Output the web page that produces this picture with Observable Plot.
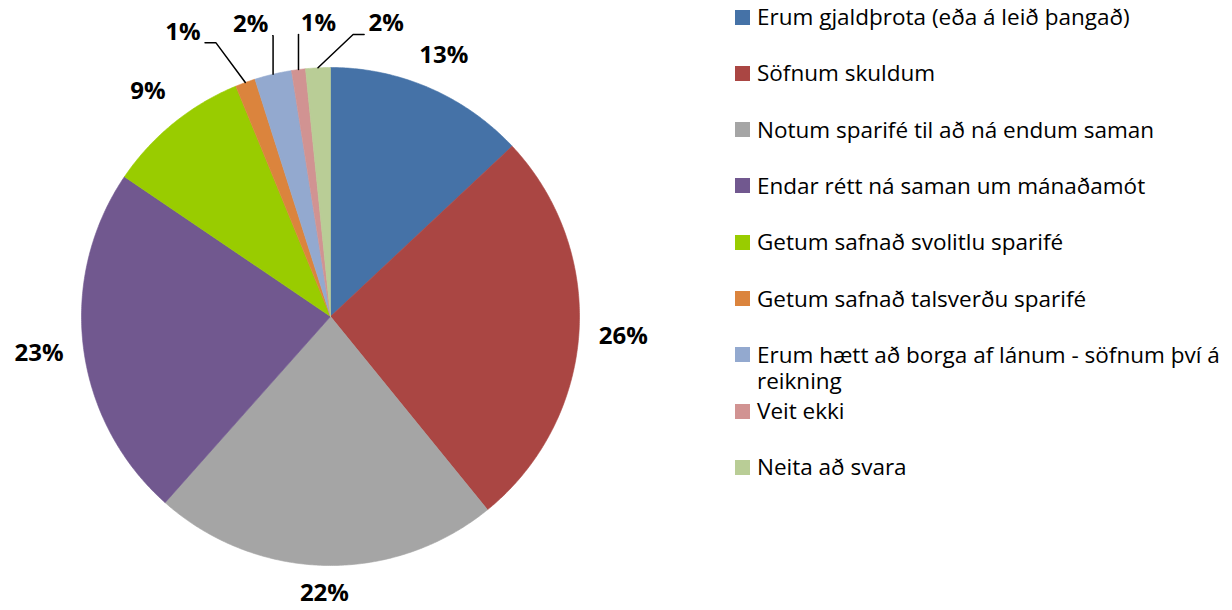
<!DOCTYPE html>
<html>
<head>
<meta charset="utf-8">
<script src="https://cdn.jsdelivr.net/npm/d3@7"></script>
<script src="https://cdn.jsdelivr.net/npm/@observablehq/plot@0.6"></script>
<style>
  html, body { margin: 0; padding: 0; background: #fff; }
  #wrap { position: relative; width: 1232px; height: 610px; overflow: hidden; font-family: "Open Sans", sans-serif; }
  #chart { position: absolute; left: 0; top: 0; }
  #legend { position: absolute; left: 735px; top: 0; width: 497px; }
  .item { position: absolute; left: 0; width: 497px; font-size: 22.5px; line-height: 26px; color: #000; }
  .sw { position: absolute; left: 0; top: 5.5px; width: 15px; height: 15px; }
  .lab { position: absolute; left: 22px; width: 475px; }
</style>
</head>
<body>
<div id="wrap"><div id="chart"></div><div id="legend"></div></div>
<script>
const categories = [
  "Erum gjaldþrota (eða á leið þangað)",
  "Söfnum skuldum",
  "Notum sparifé til að ná endum saman",
  "Endar rétt ná saman um mánaðamót",
  "Getum safnað svolitlu sparifé",
  "Getum safnað talsverðu sparifé",
  "Erum hætt að borga af lánum - söfnum því á reikning",
  "Veit ekki",
  "Neita að svara"
];
const values = [13.0, 26.1, 22.4, 22.9, 9.3, 1.3, 2.4, 0.9, 1.6];
const colors = ["#4572A7", "#AA4643", "#A5A5A5", "#71588F", "#99CC00", "#DB843D", "#93A9CF", "#D19392", "#B9CD96"];

// layout constants (pixels)
const R = 249, CX = 330, CY = 316;
const gap = 20, hw = 24, hh = 7;

const arcs = d3.pie().sort(null).value(d => d)(values);

// slice polygons
const slicePts = [];
arcs.forEach((a, i) => {
  const cat = categories[i];
  slicePts.push({cat, x: 0, y: 0});
  const n = Math.max(2, Math.ceil((a.endAngle - a.startAngle) / (Math.PI / 360)));
  for (let k = 0; k <= n; k++) {
    const t = a.startAngle + (a.endAngle - a.startAngle) * k / n;
    slicePts.push({cat, x: R * Math.sin(t), y: R * Math.cos(t)});
  }
  slicePts.push({cat, x: 0, y: 0});
});

// labels
const labels = [];
const small = [];
arcs.forEach((a, i) => {
  const mid = (a.startAngle + a.endAngle) / 2;
  const s = Math.sin(mid), c = Math.cos(mid);
  const r = R + gap + Math.abs(s) * hw + Math.abs(c) * hh;
  const lab = {cat: categories[i], text: Math.round(values[i]) + "%", x: r * s, y: r * c, ax: R * s, ay: R * c};
  labels.push(lab);
  if (values[i] < 3) small.push(lab);
});
// spread small-slice labels on a row above the pie
const tier = R + 44;
const meanX = d3.mean(small, d => d.x) + 7;
small.forEach((d, k) => {
  d.y = Math.min(tier, d.y + 18);
  d.x = meanX + 67.7 * (k - (small.length - 1) / 2);
});
const leaderPts = [];
small.forEach(d => {
  const ex = Math.max(d.x - 33, Math.min(d.x + 33, d.ax));
  const ey = d.y - 11;
  const endX = ex > d.x + 22 ? d.x + 22 : ex < d.x - 22 ? d.x - 22 : ex;
  leaderPts.push({cat: d.cat, x: d.ax, y: d.ay}, {cat: d.cat, x: ex, y: ey}, {cat: d.cat, x: endX, y: ey});
});

const chart = Plot.plot({
  width: 700,
  height: 610,
  margin: 0,
  x: {domain: [-R, R], range: [CX - R, CX + R], axis: null},
  y: {domain: [-R, R], range: [CY + R, CY - R], axis: null},
  color: {domain: categories, range: colors},
  marks: [
    Plot.line(slicePts, {x: "x", y: "y", z: "cat", fill: "cat", stroke: "cat", strokeWidth: 0.6, curve: "linear"}),
    Plot.line(leaderPts, {x: "x", y: "y", z: "cat", stroke: "black", strokeWidth: 1.5}),
    Plot.text(labels, {x: "x", y: "y", text: "text", fontSize: 24, fontWeight: "bold", fill: "black", fontFamily: "Open Sans"})
  ]
});
document.getElementById("chart").appendChild(chart);

// legend
const legend = document.getElementById("legend");
categories.forEach((cat, i) => {
  const item = document.createElement("div");
  item.className = "item";
  item.style.top = (17 + 56.3 * i - 13) + "px";
  const sw = document.createElement("div");
  sw.className = "sw";
  sw.style.background = colors[i];
  const lab = document.createElement("div");
  lab.className = "lab";
  lab.textContent = cat;
  item.appendChild(sw);
  item.appendChild(lab);
  legend.appendChild(item);
});
</script>
</body>
</html>
